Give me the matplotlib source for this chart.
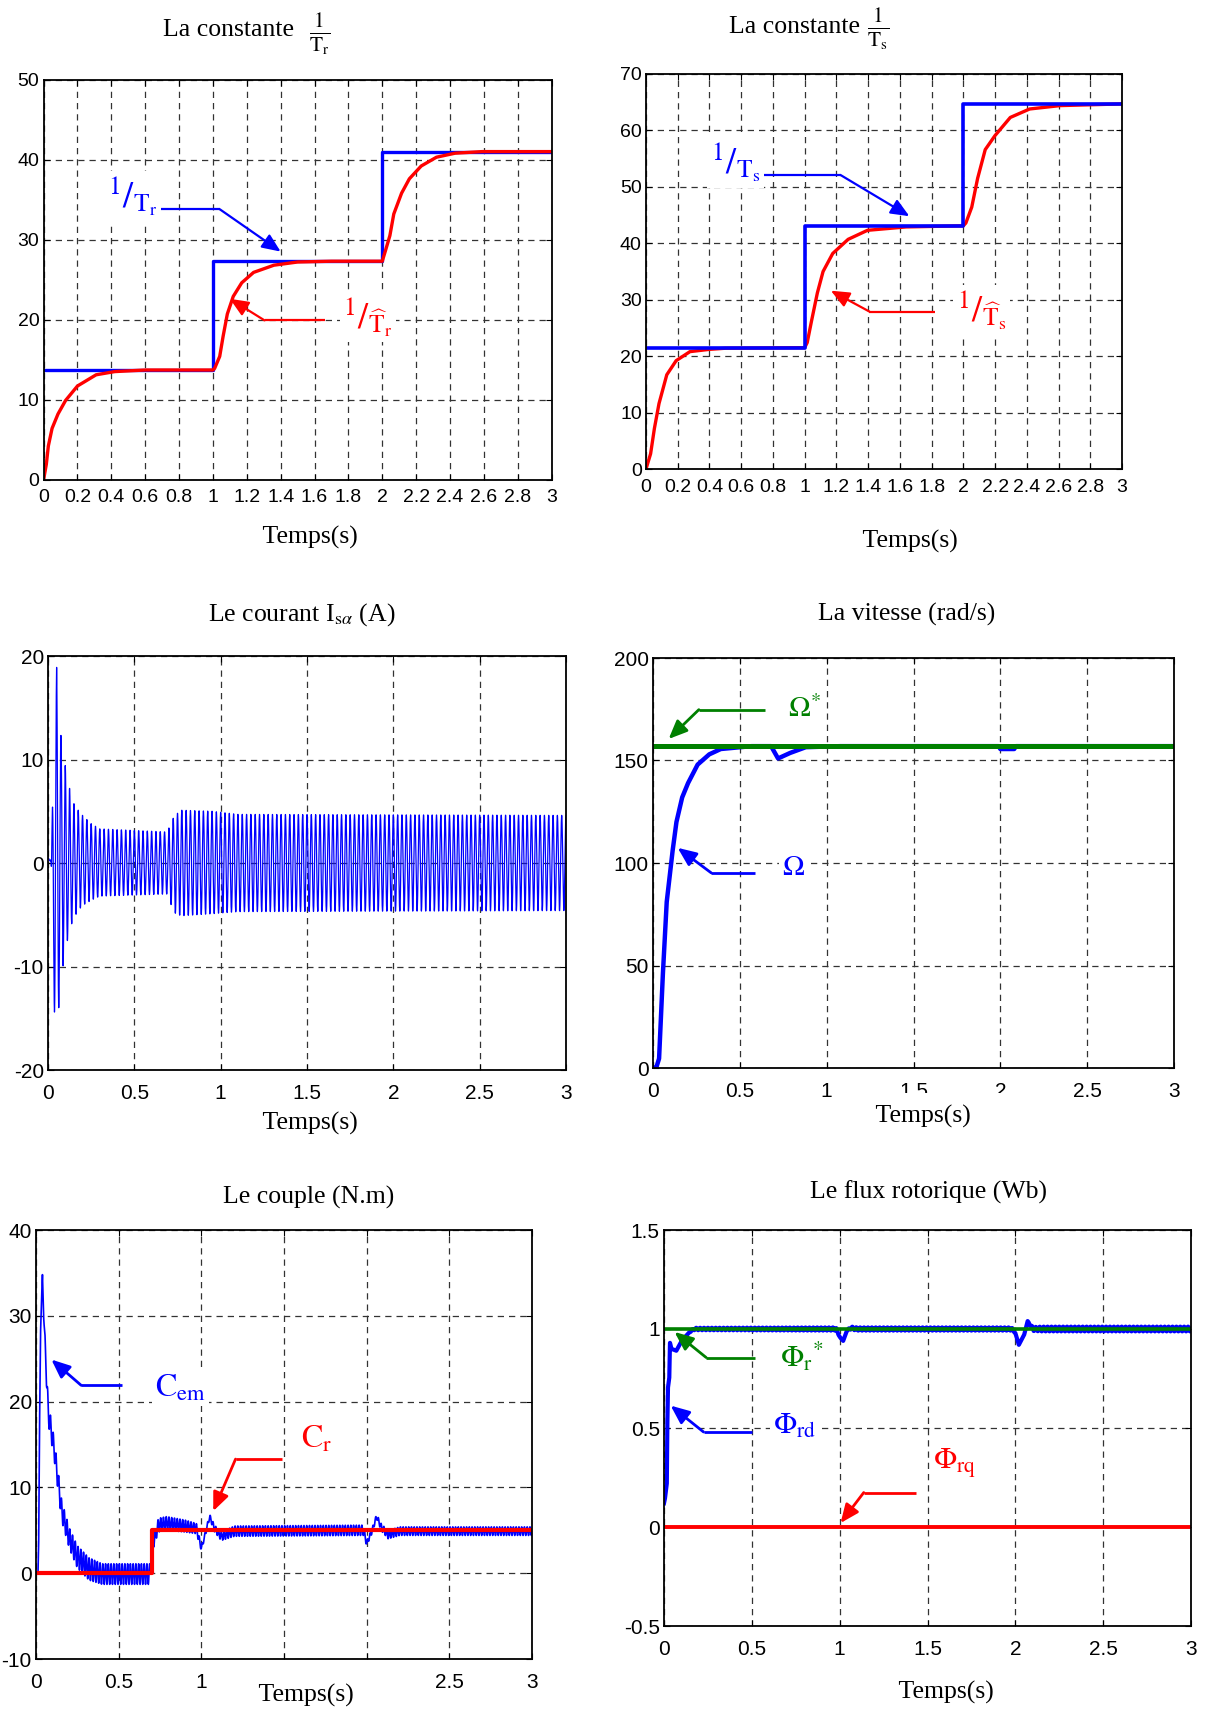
import numpy as np
import matplotlib.pyplot as plt

plt.rcParams['font.family'] = 'Liberation Serif'
plt.rcParams['mathtext.fontset'] = 'stix'
plt.rcParams['axes.unicode_minus'] = False

W, H = 1210, 1710

# ticks
x_ticks_fine = [0, 0.2, 0.4, 0.6, 0.8, 1, 1.2, 1.4, 1.6, 1.8, 2, 2.2, 2.4, 2.6, 2.8, 3]
x_labels_fine = ['0', '0.2', '0.4', '0.6', '0.8', '1', '1.2', '1.4', '1.6', '1.8',
                 '2', '2.2', '2.4', '2.6', '2.8', '3']
x_ticks = [0, 0.5, 1, 1.5, 2, 2.5, 3]
x_labels = ['0', '0.5', '1', '1.5', '2', '2.5', '3']
x_labels_couple = ['0', '0.5', '1', '', '', '2.5', '3']

# 1/Tr : reference and estimate
tr_ref_t = [0, 1, 1, 2, 2, 3]
tr_ref_v = [13.7, 13.7, 27.3, 27.3, 41.0, 41.0]
tr_est_t = [0, 0.016, 0.028, 0.05, 0.085, 0.13, 0.2, 0.31, 0.42, 0.6, 1.0,
            1.01, 1.04, 1.06, 1.085, 1.12, 1.17, 1.24, 1.36, 1.5, 1.7, 2.0,
            2.02, 2.045, 2.068, 2.114, 2.16, 2.23, 2.32, 2.43, 2.59, 3.0]
tr_est_v = [0, 1.9, 4.2, 6.4, 8.2, 9.9, 11.7, 13.1, 13.5, 13.7, 13.7,
            13.9, 15.4, 17.9, 20.7, 22.9, 24.6, 25.9, 26.8, 27.2, 27.3, 27.3,
            28.7, 30.5, 33.2, 35.8, 37.6, 39.2, 40.3, 40.8, 41.0, 41.0]

# 1/Ts : reference and estimate
ts_ref_t = [0, 1, 1, 2, 2, 3]
ts_ref_v = [21.5, 21.5, 43.1, 43.1, 64.7, 64.7]
ts_est_t = [0, 0.029, 0.053, 0.082, 0.131, 0.19, 0.277, 0.398, 0.5, 1.0,
            1.016, 1.043, 1.08, 1.116, 1.177, 1.274, 1.396, 1.64, 2.0,
            2.016, 2.053, 2.09, 2.138, 2.2, 2.296, 2.418, 2.61, 3.0]
ts_est_v = [0, 2.7, 7.2, 11.6, 16.7, 19.2, 20.8, 21.2, 21.4, 21.5,
            22.4, 26.2, 31.2, 35.0, 38.2, 40.7, 42.3, 42.9, 43.1,
            43.6, 46.4, 51.5, 56.6, 59.1, 62.3, 63.8, 64.4, 64.7]

# stator current envelope (upper / lower)
isa_t = [0, 0.018, 0.025, 0.04, 0.05, 0.06, 0.08, 0.1, 0.12, 0.14, 0.17, 0.2,
         0.25, 0.3, 0.69, 0.73, 0.77, 0.95, 1.1, 3.0]
isa_hi = [0.5, 0.5, 5.0, 15.7, 18.9, 13.0, 12.1, 9.4, 7.6, 6.0, 5.2, 4.6,
          3.8, 3.3, 3.0, 4.5, 5.1, 5.0, 4.7, 4.6]
isa_lo = [0.2, 0.2, -14.4, -14.4, -12.0, -14.4, -10.9, -8.3, -7.0, -5.7, -4.7, -4.1,
          -3.6, -3.2, -3.0, -4.8, -5.1, -4.9, -4.7, -4.6]
isa_freq = 40.0

# speed
w_ref = 157.0
w_t = [0, 0.02, 0.035, 0.057, 0.079, 0.113, 0.135, 0.168, 0.202, 0.257, 0.324,
       0.39, 0.568, 0.68, 0.72, 0.79, 0.88, 1.08, 1.99, 2.0, 2.08, 2.09, 3.0]
w_v = [0, 0.5, 4.6, 46, 81, 106, 120, 132, 139, 148, 153,
       155.6, 157, 157, 151, 153.7, 156.5, 157, 157, 155.6, 155.6, 157, 157]

# torque
cr_t = [0, 0.7, 0.7, 3.0]
cr_v = [0, 0, 5.0, 5.0]
cem_t = [0, 0.012, 0.016, 0.02, 0.027, 0.035, 0.039, 0.045, 0.058, 0.074, 0.109,
         0.156, 0.203, 0.25, 0.32, 0.4, 0.69, 0.705, 0.74, 0.79, 0.9, 0.97, 1.0,
         1.02, 1.05, 1.08, 1.12, 1.2, 1.98, 2.0, 2.03, 2.06, 2.09, 2.13, 2.2, 3.0]
cem_v = [0, 0, 3.1, 14.2, 27.7, 33.0, 34.8, 31.0, 25.2, 18.7, 14.6,
         7.2, 4.0, 1.9, 0.5, -0.1, -0.1, 3.1, 5.6, 5.8, 5.5, 5.2, 2.9,
         4.3, 6.6, 5.2, 4.3, 4.9, 5.0, 3.5, 4.8, 6.6, 5.3, 4.5, 4.9, 4.9]
cem_rip = [0, 0, 0, 0, 0, 0, 0, 0.5, 1.2, 1.3, 1.2,
           1.2, 1.2, 1.3, 1.3, 1.2, 1.2, 0.5, 0.8, 0.8, 0.7, 0.6, 0.3,
           0.3, 0.3, 0.4, 0.5, 0.6, 0.6, 0.3, 0.3, 0.3, 0.4, 0.5, 0.5, 0.5]

# rotor flux
phi_ref = 1.0
phi_t = [0, 0.005, 0.016, 0.018, 0.022, 0.03, 0.034, 0.042, 0.07, 0.1, 0.14, 0.17,
         0.98, 1.0, 1.02, 1.04, 1.06, 1.1, 1.98, 2.0, 2.02, 2.05, 2.07, 2.1, 2.15, 3.0]
phi_v = [0.12, 0.14, 0.22, 0.45, 0.70, 0.75, 0.93, 0.90, 0.89, 0.94, 0.98, 1.0,
         1.0, 0.96, 0.94, 0.99, 1.005, 1.0, 1.0, 0.98, 0.92, 0.97, 1.04, 1.0, 1.0, 1.0]
phi_rip = [0, 0, 0, 0, 0, 0, 0, 0, 0, 0, 0, 0.006,
           0.008, 0, 0, 0, 0.008, 0.008, 0.008, 0, 0, 0, 0, 0.01, 0.012, 0.012]
phi_rq = 0.0


def band(tk, centre, half, freq, phase=0.0, n=30000):
    tt = np.linspace(0, 3, n)
    c = np.interp(tt, tk, centre)
    a = np.interp(tt, tk, half)
    return tt, c + a * np.sin(2 * np.pi * freq * (tt - phase))


def add_ax(x0, x1, y0, y1):
    return fig.add_axes([x0 / W, 1 - y1 / H, (x1 - x0) / W, (y1 - y0) / H])


def style(ax, xt, xl, yt, yl, xpad, size=15):
    ax.set_xlim(0, 3)
    ax.set_ylim(yt[0], yt[-1])
    ax.set_xticks(xt)
    ax.set_xticklabels(xl)
    ax.set_yticks(yt)
    ax.set_yticklabels(yl)
    ax.set_axisbelow(True)
    ax.grid(True, color='#333333', ls=(0, (5, 4)), lw=0.9)
    ax.tick_params(direction='in', length=4, top=True, right=True, labelsize=size)
    ax.tick_params(axis='x', pad=xpad)
    ax.tick_params(axis='y', pad=3)
    for lab in ax.get_xticklabels() + ax.get_yticklabels():
        lab.set_family('Liberation Sans')
    for s in ax.spines.values():
        s.set_linewidth(1.3)


def callout(ax, start, knee, tip, color, lw=1.6):
    ax.plot([start[0], knee[0]], [start[1], knee[1]], color=color, lw=lw,
            solid_capstyle='butt', zorder=6)
    ax.annotate('', xy=tip, xytext=knee, zorder=6,
                arrowprops=dict(arrowstyle='-|>,head_length=0.7,head_width=0.3',
                                color=color, lw=lw, mutation_scale=16,
                                shrinkA=0, shrinkB=0))


def label(ax, x, y, s, color, size=21):
    ax.text(x, y, s, color=color, fontsize=size, ha='left', va='center', zorder=7,
            bbox=dict(boxstyle='square,pad=0.1', fc='white', ec='none'))


def xlab(x, y):
    fig.text(x / W, 1 - y / H, '    Temps(s)    ', fontsize=18.5, ha='center', va='center',
             bbox=dict(boxstyle='square,pad=0.45', fc='white', ec='none'))


def title(x, y, s):
    fig.text(x / W, 1 - y / H, s, fontsize=18.5, ha='center', va='center')


def frac_title(x_right, y, xf, yf, s, sub):
    fig.text(x_right / W, 1 - y / H, s, fontsize=18.5, ha='right', va='center')
    fig.text(xf / W, 1 - yf / H, r'$\frac{1}{\mathrm{T_%s}}$' % sub, fontsize=22,
             ha='center', va='center')


fig = plt.figure(figsize=(W / 100, H / 100), dpi=100)

blue = '#0000ff'
red = '#ff0000'
green = '#008000'

# 1/Tr
ax1 = add_ax(43.6, 551.6, 79.6, 479.6)
ax1.plot(tr_ref_t, tr_ref_v, color=blue, lw=2.4)
ax1.plot(tr_est_t, tr_est_v, color=red, lw=2.4)
style(ax1, x_ticks_fine, x_labels_fine, [0, 10, 20, 30, 40, 50],
      ['0', '10', '20', '30', '40', '50'], 7, 14)
callout(ax1, (0.643, 33.8), (1.04, 33.8), (1.40, 28.5), blue)
callout(ax1, (1.66, 19.9), (1.305, 19.9), (1.10, 22.6), red)
label(ax1, 0.38, 35.4, r'${}^{1}/_{\mathrm{T_r}}$', blue, 26)
label(ax1, 1.77, 20.3, r'${}^{1}/_{\widehat{\mathrm{T}}_\mathrm{r}}$', red, 26)
frac_title(294, 30, 320, 34, 'La constante', 'r')
xlab(310, 537)

# 1/Ts
ax2 = add_ax(646, 1122, 74, 469)
ax2.plot(ts_est_t, ts_est_v, color=red, lw=2.4)
ax2.plot(ts_ref_t, ts_ref_v, color=blue, lw=2.6)
style(ax2, x_ticks_fine, x_labels_fine, [0, 10, 20, 30, 40, 50, 60, 70],
      ['0', '10', '20', '30', '40', '50', '60', '70'], 7, 14)
callout(ax2, (0.744, 52.1), (1.226, 52.1), (1.66, 44.8), blue)
callout(ax2, (1.82, 27.9), (1.408, 27.9), (1.165, 31.6), red)
label(ax2, 0.41, 54.3, r'${}^{1}/_{\mathrm{T_s}}$', blue, 26)
label(ax2, 1.96, 28.1, r'${}^{1}/_{\widehat{\mathrm{T}}_\mathrm{s}}$', red, 26)
frac_title(860, 27, 878, 29, 'La constante', 's')
xlab(910, 541)

# stator current
ax3 = add_ax(48, 566, 656, 1070)
isa_mid = [(a + b) / 2 for a, b in zip(isa_hi, isa_lo)]
isa_half = [(a - b) / 2 for a, b in zip(isa_hi, isa_lo)]
tt, isa = band(isa_t, isa_mid, isa_half, isa_freq, phase=0.04375)
ax3.plot(tt, isa, color=blue, lw=0.9)
style(ax3, x_ticks, x_labels, [-20, -10, 0, 10, 20], ['-20', '-10', '0', '10', '20'], 10)
title(302, 615, r'Le courant I$_{\mathrm{s}\alpha}$ (A)')
xlab(310, 1123)

# speed
ax4 = add_ax(653, 1174, 658, 1068)
ax4.plot(w_t, w_v, color=blue, lw=3.2)
ax4.plot([0, 3], [w_ref, w_ref], color=green, lw=3.6)
style(ax4, x_ticks, x_labels, [0, 50, 100, 150, 200], ['0', '50', '100', '150', '200'], 10)
callout(ax4, (0.646, 174.8), (0.264, 174.8), (0.09, 160.5), green, lw=2.0)
callout(ax4, (0.59, 95.2), (0.335, 95.2), (0.142, 107.4), blue, lw=2.0)
label(ax4, 0.78, 175, r'$\Omega^{*}$', green)
label(ax4, 0.745, 97.6, r'$\Omega$', blue)
title(907, 614, 'La vitesse (rad/s)')
xlab(923, 1116)

# torque
ax5 = add_ax(36, 532, 1230, 1659)
tt, cem = band(cem_t, cem_v, cem_rip, 60.0)
ax5.plot(tt, cem, color=blue, lw=1.2)
ax5.plot(cr_t, cr_v, color=red, lw=3.0)
style(ax5, x_ticks, x_labels_couple, [-10, 0, 10, 20, 30, 40],
      ['-10', '0', '10', '20', '30', '40'], 10)
callout(ax5, (0.518, 21.9), (0.273, 21.9), (0.093, 24.9), blue, lw=2.0)
callout(ax5, (1.487, 13.3), (1.207, 13.3), (1.072, 7.24), red, lw=2.0)
label(ax5, 0.72, 21.6, r'$\mathrm{C_{em}}$', blue, 23)
label(ax5, 1.6, 15.6, r'$\mathrm{C_{r}}$', red, 23)
title(309, 1197, 'Le couple (N.m)')
xlab(306, 1695)

# rotor flux
ax6 = add_ax(664, 1191, 1230, 1626)
tt, phi = band(phi_t, phi_v, phi_rip, 45.0)
ax6.plot(tt, phi, color=blue, lw=3.0)
ax6.plot([0, 3], [phi_ref, phi_ref], color=green, lw=2.6)
ax6.plot([0, 3], [phi_rq, phi_rq], color=red, lw=2.8)
style(ax6, x_ticks, x_labels, [-0.5, 0, 0.5, 1, 1.5], ['-0.5', '0', '0.5', '1', '1.5'], 10)
callout(ax6, (0.517, 0.856), (0.24, 0.856), (0.06, 0.985), green, lw=2.0)
callout(ax6, (0.499, 0.48), (0.225, 0.48), (0.038, 0.613), blue, lw=2.0)
callout(ax6, (1.433, 0.174), (1.137, 0.174), (1.005, 0.02), red, lw=2.0)
label(ax6, 0.66, 0.86, r'$\Phi_\mathrm{r}{}^{*}$', green, 22)
label(ax6, 0.62, 0.507, r'$\Phi_\mathrm{rd}$', blue, 22)
label(ax6, 1.53, 0.32, r'$\Phi_\mathrm{rq}$', red, 22)
title(928, 1192, 'Le flux rotorique (Wb)')
xlab(946, 1692)

fig.savefig('out.png', dpi=100)
